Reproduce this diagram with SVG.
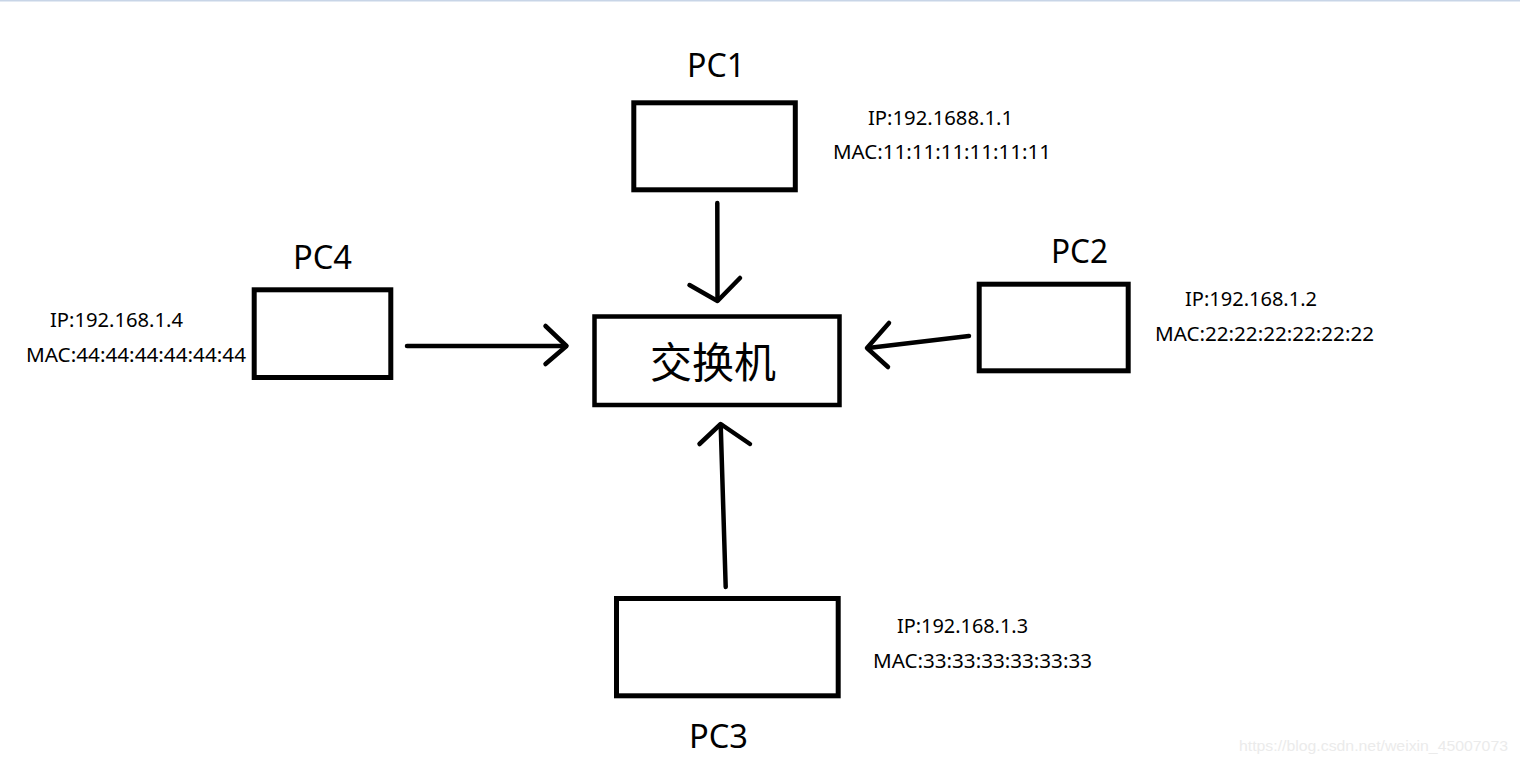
<svg xmlns="http://www.w3.org/2000/svg" width="1520" height="764" viewBox="0 0 1520 764">
<style>
.box{fill:none;stroke:#000;stroke-width:5}
.sw{fill:none;stroke:#000;stroke-width:4.5}
.ln{fill:none;stroke:#000;stroke-width:4.5;stroke-linecap:round;stroke-linejoin:round}
.pc{font-family:"Noto Sans","Open Sans","Liberation Sans",sans-serif;font-size:33px;fill:#000}
.info{font-family:"Noto Sans","Open Sans","Liberation Sans",sans-serif;font-size:20px;fill:#000}
.cn{font-family:"Noto Sans CJK SC","Noto Sans",sans-serif;font-size:42px;fill:#000}
.wm{font-family:"Liberation Sans",Arial,sans-serif;font-size:15px;fill:#ebebeb}
</style>
<rect x="0" y="0" width="1520" height="764" fill="#fff"/>
<rect x="0" y="0" width="1520" height="1.5" fill="#c8d5e7"/>
<g id="switch">
<rect class="sw" x="594.5" y="316.5" width="245" height="88.5"/>
<text class="cn" x="713" y="378" text-anchor="middle">交换机</text>
</g>
<g id="pc1">
<rect class="box" x="633.8" y="102.8" width="161.5" height="87"/>
<text class="pc" x="687" y="77" textLength="58" lengthAdjust="spacingAndGlyphs">PC1</text>
<text class="info" x="868" y="124.5" textLength="145" lengthAdjust="spacingAndGlyphs">IP:192.1688.1.1</text>
<text class="info" x="833" y="158.5" textLength="218" lengthAdjust="spacingAndGlyphs">MAC:11:11:11:11:11:11</text>
</g>
<g id="pc2">
<rect class="box" x="979.2" y="284.2" width="149" height="86.6"/>
<text class="pc" x="1051" y="263" textLength="57" lengthAdjust="spacingAndGlyphs">PC2</text>
<text class="info" x="1185" y="306" textLength="132" lengthAdjust="spacingAndGlyphs">IP:192.168.1.2</text>
<text class="info" x="1155" y="340.5" textLength="219" lengthAdjust="spacingAndGlyphs">MAC:22:22:22:22:22:22</text>
</g>
<g id="pc3">
<rect class="box" x="616.5" y="598.5" width="221.7" height="97.3"/>
<text class="pc" x="689" y="748" textLength="59" lengthAdjust="spacingAndGlyphs">PC3</text>
<text class="info" x="897" y="632.7" textLength="131" lengthAdjust="spacingAndGlyphs">IP:192.168.1.3</text>
<text class="info" x="873" y="668" textLength="219" lengthAdjust="spacingAndGlyphs">MAC:33:33:33:33:33:33</text>
</g>
<g id="pc4">
<rect class="box" x="254.2" y="289.8" width="136.6" height="87.7"/>
<text class="pc" x="293" y="269" textLength="59" lengthAdjust="spacingAndGlyphs">PC4</text>
<text class="info" x="50" y="327" textLength="133" lengthAdjust="spacingAndGlyphs">IP:192.168.1.4</text>
<text class="info" x="26" y="362" textLength="220" lengthAdjust="spacingAndGlyphs">MAC:44:44:44:44:44:44</text>
</g>
<g id="connectors">
<path class="ln" d="M717.3 203 L717.5 300"/>
<polyline class="ln" points="689.5,285 717.5,301 740,278"/>
<path class="ln" d="M969 336 L868 348"/>
<polyline class="ln" points="889,323 867,348 888,367"/>
<path class="ln" d="M725.7 587 L720.7 425"/>
<polyline class="ln" points="699.5,444 720.7,424 750,444"/>
<path class="ln" d="M407 346 L566 346"/>
<polyline class="ln" points="545.5,326 566.5,346 545.5,364"/>
</g>
<text class="wm" x="1239" y="751" textLength="269" lengthAdjust="spacingAndGlyphs">https://blog.csdn.net/weixin_45007073</text>
</svg>
